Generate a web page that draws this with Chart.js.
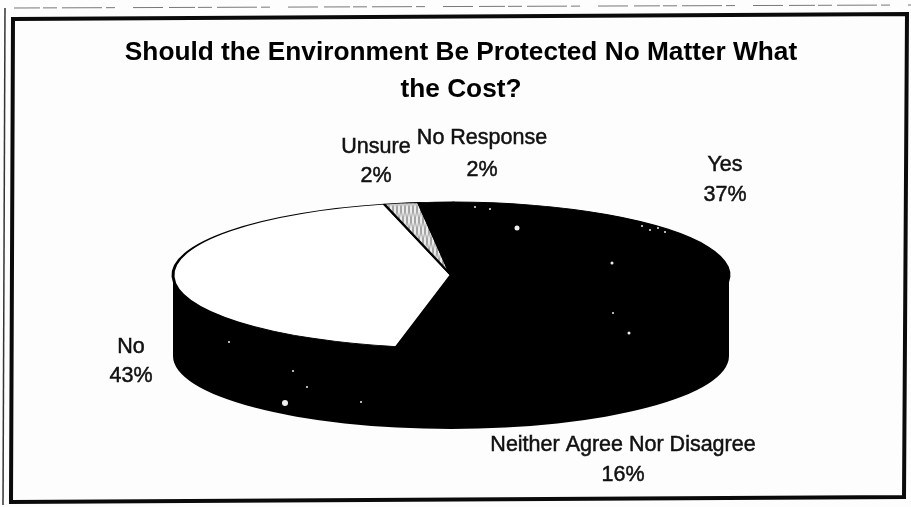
<!DOCTYPE html>
<html>
<head>
<meta charset="utf-8">
<title>Should the Environment Be Protected</title>
<script src="https://cdn.jsdelivr.net/npm/chart.js@4"></script>
<style>
  html, body { margin: 0; padding: 0; background: #fdfdfd; overflow: hidden; }
  canvas { display: block; }
</style>
</head>
<body>
<canvas id="pie" width="911" height="507"></canvas>
<script>
const categories = ["Yes", "Neither Agree Nor Disagree", "No", "Unsure", "No Response"];
const percents = [37, 16, 43, 2, 2];
const titleLines = ["Should the Environment Be Protected No Matter What", "the Cost?"];

// where the tilted pie sits on the page
const pieCx = 451, pieCy = 275, pieRadius = 278, squash = 73 / 278, depth = 81;
const labelFont = "21.5px 'Liberation Sans', Arial, sans-serif";

// label centre x, first line y, second line y, same order as categories
const labelPos = [
    [725, 165, 195],
    [623, 445, 475],
    [131, 347, 376],
    [376, 147, 176],
    [482, 138, 170]
];

// scan dirt on the black part: x, y, radius
const specks = [
    [285, 403, 3], [517, 228, 2.5], [229, 342, 1], [293, 371, 1], [307, 387, 1],
    [361, 402, 1], [629, 333, 1.5], [613, 313, 1], [612, 263, 1.5], [475, 207, 1],
    [490, 209, 1], [650, 230, 1], [658, 228, 1], [665, 232, 1], [642, 226, 1]
];

function dotted() {
    const c = document.createElement("canvas");
    c.width = c.height = 4;
    const g = c.getContext("2d");
    g.fillStyle = "#ececec";
    g.fillRect(0, 0, 4, 4);
    g.fillStyle = "#a4a4a4";
    g.fillRect(0, 0, 2, 2);
    g.fillRect(2, 2, 2, 2);
    return g.createPattern(c, "repeat");
}

const tiltPlugin = {
    id: "tilt",
    beforeDatasetsDraw(chart) {
        const ctx = chart.ctx;
        const first = chart.getDatasetMeta(0).data[0];
        // side wall, a black copy of the ellipse pushed down
        ctx.save();
        ctx.fillStyle = "#000";
        ctx.beginPath();
        ctx.ellipse(pieCx, pieCy + depth, pieRadius, pieRadius * squash, 0, 0, Math.PI);
        ctx.lineTo(pieCx - pieRadius, pieCy);
        ctx.lineTo(pieCx + pieRadius, pieCy);
        ctx.closePath();
        ctx.fill();
        ctx.restore();

        ctx.save();
        ctx.translate(pieCx, pieCy);
        ctx.scale(1, squash);
        ctx.translate(-first.x, -first.y);
    },
    afterDatasetsDraw(chart) {
        chart.ctx.restore();
    },
    afterDraw(chart) {
        const ctx = chart.ctx;
        ctx.save();

        ctx.fillStyle = "#eee";
        specks.forEach(s => {
            ctx.beginPath();
            ctx.arc(s[0], s[1], s[2], 0, Math.PI * 2);
            ctx.fill();
        });

        // slice labels, slight stroke because the scan fattens the type
        ctx.fillStyle = "#111";
        ctx.strokeStyle = "#111";
        ctx.lineWidth = 0.5;
        ctx.font = labelFont;
        ctx.textAlign = "center";
        ctx.textBaseline = "middle";
        categories.forEach((name, i) => {
            const p = labelPos[i];
            ctx.fillText(name, p[0], p[1]);
            ctx.strokeText(name, p[0], p[1]);
            ctx.fillText(percents[i] + "%", p[0], p[2]);
            ctx.strokeText(percents[i] + "%", p[0], p[2]);
        });

        // scanned frame
        ctx.strokeStyle = "#0a0a0a";
        ctx.lineWidth = 4;
        ctx.beginPath();
        ctx.moveTo(13, 19);
        ctx.lineTo(907, 14);
        ctx.lineTo(904, 497);
        ctx.lineTo(11, 502);
        ctx.closePath();
        ctx.stroke();

        ctx.lineWidth = 1.5;
        ctx.strokeStyle = "#333";
        ctx.beginPath();
        ctx.moveTo(5, 8);
        ctx.lineTo(3, 505);
        ctx.stroke();

        ctx.setLineDash([26, 3, 14, 5, 40, 4, 9, 18, 30, 6]);
        ctx.lineWidth = 1;
        ctx.strokeStyle = "#777";
        ctx.beginPath();
        ctx.moveTo(14, 8);
        ctx.lineTo(911, 5);
        ctx.stroke();
        ctx.restore();
    }
};

new Chart(document.getElementById("pie"), {
    type: "pie",
    data: {
        labels: categories,
        datasets: [{
            data: percents,
            backgroundColor: ["#000", "#000", "#fff", dotted(), "#000"],
            borderColor: "#000",
            borderWidth: 3,
            clip: false
        }]
    },
    options: {
        responsive: false,
        animation: false,
        rotation: 0.5,
        radius: pieRadius,
        layout: { padding: { left: 11 } },
        plugins: {
            legend: { display: false },
            tooltip: { enabled: false },
            title: {
                display: true,
                text: titleLines,
                color: "#000",
                font: { family: "'Liberation Sans', Arial, sans-serif", size: 26.25, weight: "bold", lineHeight: 1.39 },
                padding: { top: 35, bottom: 10 }
            }
        }
    },
    plugins: [tiltPlugin]
});
</script>
</body>
</html>
